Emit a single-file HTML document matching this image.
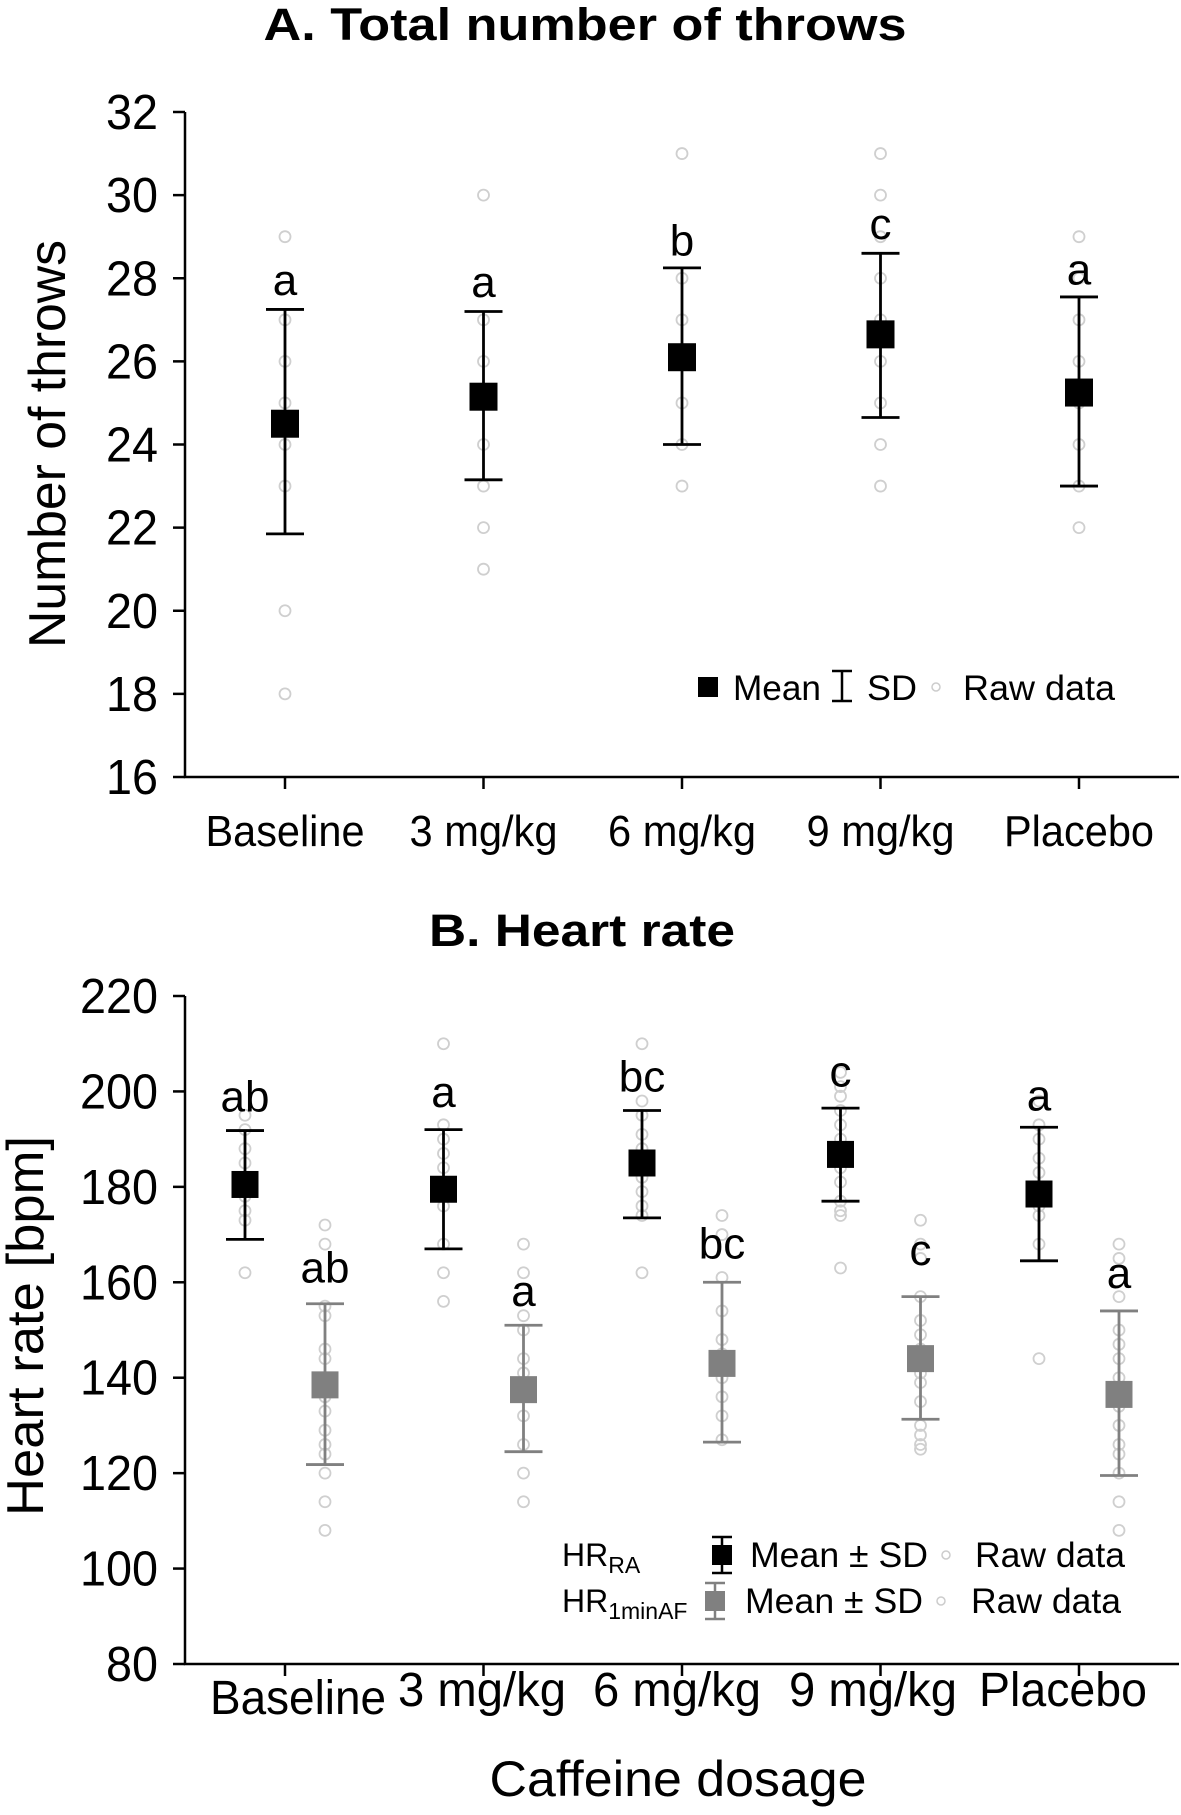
<!DOCTYPE html>
<html><head><meta charset="utf-8"><style>
html,body{margin:0;padding:0;background:#fff;}
svg{display:block;font-family:"Liberation Sans",sans-serif;}
</style></head><body>
<svg id="fig" width="1181" height="1815" viewBox="0 0 1181 1815" xmlns="http://www.w3.org/2000/svg">
<text x="585" y="40" text-anchor="middle" font-size="45" font-weight="bold" textLength="643" lengthAdjust="spacingAndGlyphs">A. Total number of throws</text>
<text x="582" y="946" text-anchor="middle" font-size="45" font-weight="bold" textLength="306" lengthAdjust="spacingAndGlyphs">B. Heart rate</text>
<text transform="translate(65,444) rotate(-90)" text-anchor="middle" font-size="52" textLength="408" lengthAdjust="spacingAndGlyphs">Number of throws</text>
<text transform="translate(43,1326) rotate(-90)" text-anchor="middle" font-size="52" textLength="380" lengthAdjust="spacingAndGlyphs">Heart rate [bpm]</text>
<text x="678" y="1796" text-anchor="middle" font-size="50" textLength="377" lengthAdjust="spacingAndGlyphs">Caffeine dosage</text>
<g id="gA"></g>
<g id="gB"></g>
<g>
 <rect x="698" y="677" width="20" height="20" fill="#000"/>
 <text x="733" y="700" font-size="35" textLength="88" lengthAdjust="spacingAndGlyphs">Mean</text>
 <path d="M842 671V701M832 671H852M832 701H852" stroke="#000" stroke-width="2.5" fill="none"/>
 <text x="867" y="700" font-size="35" textLength="50" lengthAdjust="spacingAndGlyphs">SD</text>
 <circle cx="936" cy="687" r="4" fill="none" stroke="#ccc" stroke-width="1.5"/>
 <text x="963" y="700" font-size="35" textLength="152" lengthAdjust="spacingAndGlyphs">Raw data</text>
</g>
<g>
 <text x="562" y="1566" font-size="32">HR<tspan font-size="23" dy="7">RA</tspan></text>
 <text x="562" y="1612" font-size="32">HR<tspan font-size="23" dy="7">1minAF</tspan></text>
 <path d="M722 1537V1573M712 1537H732M712 1573H732" stroke="#000" stroke-width="2.5" fill="none"/>
 <rect x="712" y="1545" width="20" height="20" fill="#000"/>
 <path d="M715 1583V1619M705 1583H725M705 1619H725" stroke="#808080" stroke-width="2.5" fill="none"/>
 <rect x="705" y="1591" width="20" height="20" fill="#808080"/>
 <text x="750" y="1567" font-size="35" textLength="178" lengthAdjust="spacingAndGlyphs">Mean ± SD</text>
 <text x="745" y="1613" font-size="35" textLength="178" lengthAdjust="spacingAndGlyphs">Mean ± SD</text>
 <circle cx="946" cy="1555" r="4" fill="none" stroke="#ccc" stroke-width="1.5"/>
 <circle cx="941" cy="1601" r="4" fill="none" stroke="#ccc" stroke-width="1.5"/>
 <text x="975" y="1567" font-size="35" textLength="150" lengthAdjust="spacingAndGlyphs">Raw data</text>
 <text x="971" y="1613" font-size="35" textLength="150" lengthAdjust="spacingAndGlyphs">Raw data</text>
</g>
</svg>
<script>
const categories=["Baseline","3 mg/kg","6 mg/kg","9 mg/kg","Placebo"];
const throwMean=[24.5,25.15,26.1,26.65,25.25];
const throwSdHi=[27.25,27.2,28.25,28.6,27.55];
const throwSdLo=[21.85,23.15,24.0,24.65,23.0];
const throwLetters=["a","a","b","c","a"];
const throwRaw=[[29,27,26,25,24,23,20,18],[30,27,26,25,24,23,22,21],[31,28,27,26,25,24,23],[31,30,29,28,27,26,25,24,23],[29,28,27,26,25,24,23,22]];
const throwTicks=[16,18,20,22,24,26,28,30,32];
const hrRaMean=[180.5,179.5,185,186.8,178.5];
const hrRaHi=[191.8,192,196,196.5,192.5];
const hrRaLo=[169,167,173.5,177,164.5];
const hrRaLetters=["ab","a","bc","c","a"];
const hrRaLetterY=[195.8,196.7,200,201,196];
const hrRaRaw=[[195,192,188,185,182,178,175,173,162],[210,193,190,187,184,180,176,168,162,156],[210,198,195,191,188,185,182,179,176,174,162],[204,201,199,196,193,190,187,184,181,177,175,174,163],[198,193,190,186,183,180,176,174,168,144]];
const hrAfMean=[138.5,137.5,143,144,136.5];
const hrAfHi=[155.5,151,160,157,154];
const hrAfLo=[121.8,124.5,126.5,131.3,119.5];
const hrAfLetters=["ab","a","bc","c","a"];
const hrAfLetterY=[160,155,165,163.6,158.8];
const hrAfRaw=[[172,168,155,153,146,144,140,136,133,129,126,124,120,114,108],[168,162,153,150,144,141,137,132,126,120,114],[174,170,161,154,148,145,140,136,132,127],[173,168,165,157,152,149,146,141,139,135,130,128,126,125],[168,165,157,150,147,144,140,137,134,130,126,124,120,114,108]];
const hrTicks=[80,100,120,140,160,180,200,220];

const NS="http://www.w3.org/2000/svg";
function mk(parent,tag,attrs,txt){const e=document.createElementNS(NS,tag);for(const k in attrs)e.setAttribute(k,attrs[k]);if(txt!==undefined)e.textContent=txt;parent.appendChild(e);return e;}
const catX=i=>285+i*198.5;
const yA=v=>777-(v-16)*(777-112)/16;
const yB=v=>1664-(v-80)*(1664-996)/140;

function axes(g,yf,ticks,x0,x1,ybot,labelY,labelSize,labelXs,labelW){
  const ax=mk(g,'path',{d:`M185 ${yf(ticks[ticks.length-1])}V${ybot}H${x1}`,stroke:'#000','stroke-width':2.5,fill:'none'});
  
  ticks.forEach(t=>{
    const y=yf(t);
    mk(g,'line',{x1:173,x2:185,y1:y,y2:y,stroke:'#000','stroke-width':2.5});
    const s=String(t);
    const tl=mk(g,'text',{x:158,y:y+17,'text-anchor':'end','font-size':49,textLength:s.length*26,lengthAdjust:'spacingAndGlyphs'},s);
    
    
  });
  categories.forEach((c,i)=>{
    mk(g,'line',{x1:catX(i),x2:catX(i),y1:ybot,y2:ybot+12,stroke:'#000','stroke-width':2.5});
    const lx=labelXs?labelXs[i]:catX(i);
    const ly=Array.isArray(labelY)?labelY[i]:labelY;
    const t=mk(g,'text',{x:lx,y:ly,'text-anchor':'middle','font-size':labelSize},c);
    if(labelW){t.setAttribute('textLength',labelW[i]);t.setAttribute('lengthAdjust','spacingAndGlyphs');}
    
    
  });
}
function series(g,xs,yf,mean,hi,lo,raw,letters,letterY,color,sq,nm){
  mean.forEach((m,i)=>{
    const x=xs(i);
    raw[i].forEach(v=>{
      const c=mk(g,'circle',{cx:x,cy:yf(v),r:5.5,fill:'none',stroke:'#cfcfcf','stroke-width':1.8});
      
      
    });
    const eb=mk(g,'path',{d:`M${x} ${yf(hi[i])}V${yf(lo[i])}M${x-19} ${yf(hi[i])}H${x+19}M${x-19} ${yf(lo[i])}H${x+19}`,stroke:color,'stroke-width':2.8,fill:'none'});
    
    
    const r=mk(g,'rect',{x:x-sq/2,y:yf(m)-sq/2,width:sq,height:sq,fill:color});
    
    
    const lt=mk(g,'text',{x:x,y:yf(letterY[i]),'text-anchor':'middle','font-size':44},letters[i]);
    
    
  });
}
const gA=document.getElementById('gA');
axes(gA,yA,throwTicks,185,1179,777,846,44,null,[159,148,148,148,150]);
const throwLetterY=throwSdHi.map(v=>v+0.35);
throwLetterY[2]=28.55;throwLetterY[3]=28.95;throwLetterY[4]=27.85;
series(gA,catX,yA,throwMean,throwSdHi,throwSdLo,throwRaw,throwLetters,throwLetterY,'#000',28,'throws');
const gB=document.getElementById('gB');
axes(gB,yB,hrTicks,185,1179,1664,[1714,1706,1706,1706,1706],48,[298,482,677,873,1063],[176,168,168,168,168]);
series(gB,i=>catX(i)-40,yB,hrRaMean,hrRaHi,hrRaLo,hrRaRaw,hrRaLetters,hrRaLetterY,'#000',27,'hr-ra');
series(gB,i=>catX(i)+40,yB,hrAfMean,hrAfHi,hrAfLo,hrAfRaw,hrAfLetters,hrAfLetterY,'#808080',27,'hr-1minaf');
</script>
</body></html>
